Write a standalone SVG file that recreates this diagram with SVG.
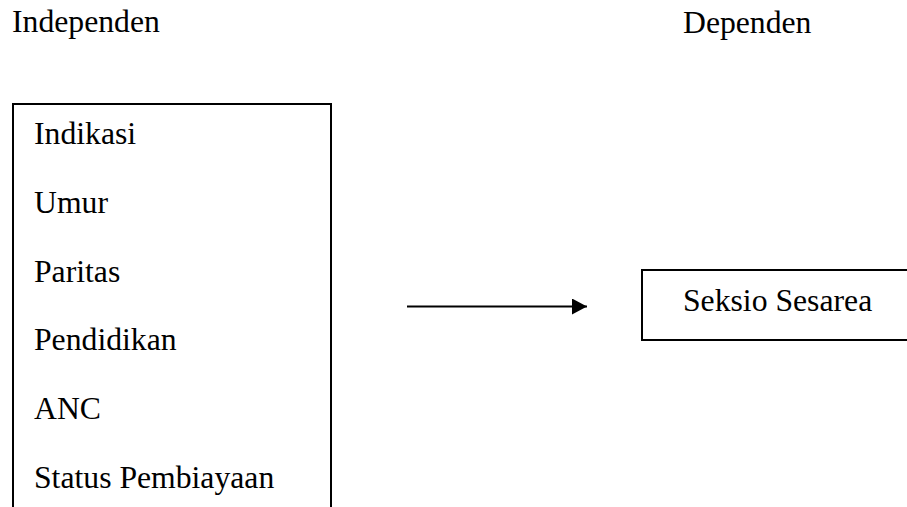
<svg xmlns="http://www.w3.org/2000/svg" width="907" height="507" viewBox="0 0 907 507">
<style>
text{font-family:"Liberation Serif","Times New Roman",serif;font-size:31.7px;fill:#000}
.box{fill:none;stroke:#000;stroke-width:2}
.conn{stroke:#000;stroke-width:2.2;fill:none}
</style>
<defs>
<marker id="ah" markerUnits="userSpaceOnUse" markerWidth="16" markerHeight="16" refX="15" refY="8" orient="auto">
<path d="M0,0 L15,8 L0,16 Z" fill="#000"/>
</marker>
</defs>
<rect width="907" height="507" fill="#fff"/>
<g id="label-independen"><text x="12" y="32">Independen</text></g>
<g id="label-dependen"><text x="683" y="32.5">Dependen</text></g>
<g id="independent-box">
<path class="box" d="M13,508 L13,104 L331,104 L331,508"/>
<text x="34" y="144">Indikasi</text>
<text x="34" y="212.8">Umur</text>
<text x="34" y="281.6">Paritas</text>
<text x="34" y="350.4">Pendidikan</text>
<text x="34" y="419.2">ANC</text>
<text x="34" y="488">Status Pembiayaan</text>
</g>
<g id="dependent-box">
<path class="box" d="M910,270 L642,270 L642,340 L910,340"/>
<text x="683" y="311">Seksio Sesarea</text>
</g>
<g id="connectors">
<line class="conn" x1="407" y1="306.5" x2="587" y2="306.5" marker-end="url(#ah)"/>
</g>
</svg>
